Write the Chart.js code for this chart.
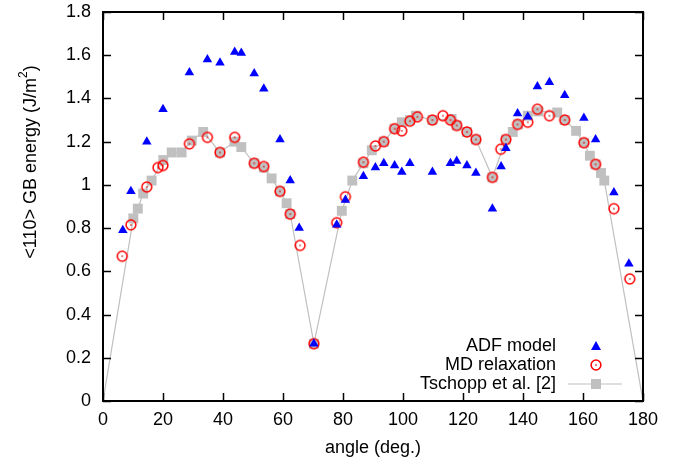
<!DOCTYPE html>
<html lang="en">
<head>
    <meta charset="UTF-8">
    <title>GB energy</title>
    <script src="https://cdn.jsdelivr.net/npm/chart.js"></script>
    <style>
        html, body { margin: 0; padding: 0; background: #fff; }
        #wrap { width: 686px; height: 463px; position: relative; }
    </style>
</head>
<body>
<div id="wrap"><canvas id="gbChart"></canvas></div>
<script>
    // ADF model (blue triangles)
    const adfAngle = [6.6, 9.3, 14.6, 20.0, 28.8, 34.8, 39.0, 43.9, 46.1, 50.4, 53.6, 59.0, 62.4, 65.4, 70.3,
        77.9, 80.8, 86.8, 90.8, 93.6, 97.2, 99.6, 102.3, 109.8, 115.8, 117.9, 121.3, 124.3, 129.8, 132.7,
        134.3, 138.2, 141.6, 144.8, 148.8, 153.9, 160.3, 164.2, 170.3, 175.3];
    const adfEnergy = [0.79, 0.97, 1.20, 1.35, 1.52, 1.58, 1.565, 1.615, 1.61, 1.515, 1.445, 1.21, 1.02, 0.80, 0.265,
        0.815, 0.93, 1.04, 1.08, 1.10, 1.09, 1.06, 1.10, 1.06, 1.10, 1.11, 1.09, 1.055, 0.89, 1.085,
        1.17, 1.33, 1.315, 1.455, 1.475, 1.415, 1.31, 1.21, 0.965, 0.635];

    // MD relaxation (red circles)
    const mdAngle = [6.4, 9.3, 14.6, 18.3, 20.0, 28.8, 34.8, 39.0, 43.9, 50.4, 53.6, 59.0, 62.4, 65.7, 70.3,
        77.9, 80.8, 86.8, 90.8, 93.6, 97.2, 99.6, 102.3, 104.8, 109.8, 113.3, 115.8, 117.9, 121.3, 124.3,
        129.8, 132.6, 134.3, 138.2, 141.6, 144.8, 148.8, 153.9, 160.3, 164.2, 170.3, 175.6];
    const mdEnergy = [0.67, 0.815, 0.99, 1.08, 1.09, 1.19, 1.22, 1.15, 1.22, 1.10, 1.085, 0.97, 0.865, 0.72, 0.265,
        0.825, 0.945, 1.105, 1.18, 1.20, 1.26, 1.25, 1.295, 1.315, 1.30, 1.32, 1.30, 1.275, 1.245, 1.21,
        1.035, 1.165, 1.21, 1.28, 1.29, 1.35, 1.32, 1.30, 1.195, 1.095, 0.89, 0.565];

    // Tschopp et al. [2] (grey squares + line)
    const tsAngle = [0, 10.1, 11.6, 13.4, 16.2, 20.1, 22.9, 26.2, 29.6, 33.4, 39.0, 43.8, 46.1, 50.4, 53.6,
        56.2, 59.0, 61.2, 62.4, 70.3, 79.6, 83.1, 86.8, 89.6, 93.6, 97.2, 99.6, 102.3, 104.3, 109.8,
        116.2, 117.9, 121.3, 124.3, 129.8, 134.3, 136.6, 138.4, 141.6, 145.1, 151.4, 153.9, 157.7, 160.3,
        162.3, 164.2, 166.0, 167.1, 180];
    const tsEnergy = [0, 0.845, 0.89, 0.96, 1.02, 1.115, 1.15, 1.15, 1.205, 1.245, 1.15, 1.20, 1.175, 1.10, 1.08,
        1.03, 0.97, 0.915, 0.865, 0.265, 0.88, 1.02, 1.10, 1.16, 1.20, 1.26, 1.29, 1.30, 1.32, 1.30,
        1.305, 1.275, 1.245, 1.21, 1.035, 1.21, 1.245, 1.28, 1.32, 1.34, 1.335, 1.30, 1.25, 1.195,
        1.135, 1.095, 1.055, 1.02, 0];

    const xTicks = [0, 20, 40, 60, 80, 100, 120, 140, 160, 180];
    const yTicks = [0, 0.2, 0.4, 0.6, 0.8, 1, 1.2, 1.4, 1.6, 1.8];
    const legendLabels = ["ADF model", "MD relaxation", "Tschopp et al. [2]"];

    const FONT = "Liberation Sans, Arial, sans-serif";
    const pts = (xs, ys) => xs.map((x, i) => ({ x: x, y: ys[i] }));

    // red circle with a dot in the middle
    function circleDot() {
        const c = document.createElement("canvas");
        c.width = 14; c.height = 14;
        const g = c.getContext("2d");
        g.strokeStyle = "#ff0000";
        g.lineWidth = 1.5;
        g.beginPath(); g.arc(7, 7, 4.9, 0, Math.PI * 2); g.stroke();
        g.fillStyle = "#d00000";
        g.fillRect(6.3, 6.3, 1.4, 1.4);
        return c;
    }
    const circleImg = circleDot();

    // frame, inward ticks, y title and legend
    const frame = {
        id: "frame",
        afterDatasetsDraw(chart) {
            const { ctx, chartArea: a, scales } = chart;
            ctx.save();
            ctx.strokeStyle = "#000";
            ctx.lineWidth = 1.5;
            ctx.beginPath();
            xTicks.forEach(v => {
                const px = Math.round(scales.x.getPixelForValue(v)) + 0.5;
                ctx.moveTo(px, a.bottom); ctx.lineTo(px, a.bottom - 8);
                ctx.moveTo(px, a.top); ctx.lineTo(px, a.top + 8);
            });
            yTicks.forEach(v => {
                const py = Math.round(scales.y.getPixelForValue(v)) + 0.5;
                ctx.moveTo(a.left, py); ctx.lineTo(a.left + 8, py);
                ctx.moveTo(a.right, py); ctx.lineTo(a.right - 8, py);
            });
            ctx.stroke();
            ctx.lineWidth = 2;
            ctx.strokeRect(a.left, a.top, a.right - a.left, a.bottom - a.top);

            // y axis title with superscript
            ctx.fillStyle = "#000";
            ctx.translate(31, 162);
            ctx.rotate(-Math.PI / 2);
            ctx.textBaseline = "middle";
            const main = "<110> GB energy (J/m", sup = "2", tail = ")";
            ctx.font = "18px " + FONT;
            const w1 = ctx.measureText(main).width;
            const w3 = ctx.measureText(tail).width;
            ctx.font = "12px " + FONT;
            const w2 = ctx.measureText(sup).width;
            let x0 = -(w1 + w2 + w3) / 2;
            ctx.font = "18px " + FONT;
            ctx.fillText(main, x0, 0);
            ctx.font = "12px " + FONT;
            ctx.fillText(sup, x0 + w1, -7);
            ctx.font = "18px " + FONT;
            ctx.fillText(tail, x0 + w1 + w2, 0);
            ctx.setTransform(1, 0, 0, 1, 0, 0);

            // legend (text right aligned, symbol on the right)
            ctx.font = "18px " + FONT;
            ctx.textAlign = "right";
            ctx.textBaseline = "middle";
            const rows = [346, 365, 384];
            legendLabels.forEach((t, i) => ctx.fillText(t, 556, rows[i]));
            ctx.fillStyle = "#0000ff";
            ctx.beginPath();
            ctx.moveTo(596, rows[0] - 5); ctx.lineTo(601, rows[0] + 4); ctx.lineTo(591, rows[0] + 4);
            ctx.closePath(); ctx.fill();
            ctx.drawImage(circleImg, 596 - 7, rows[1] - 7);
            ctx.strokeStyle = "#c0c0c0";
            ctx.lineWidth = 1.2;
            ctx.beginPath(); ctx.moveTo(568, rows[2]); ctx.lineTo(622, rows[2]); ctx.stroke();
            ctx.fillStyle = "#c0c0c0";
            ctx.fillRect(591, rows[2] - 5, 10, 10);
            ctx.restore();
        }
    };

    new Chart(document.getElementById("gbChart"), {
        type: "scatter",
        data: {
            datasets: [
                {
                    label: legendLabels[0],
                    data: pts(adfAngle, adfEnergy),
                    pointStyle: "triangle",
                    pointRadius: 5.5,
                    backgroundColor: "#0000ff",
                    borderColor: "#0000ff",
                    borderWidth: 0,
                    order: 1
                },
                {
                    label: legendLabels[1],
                    data: pts(mdAngle, mdEnergy),
                    pointStyle: circleImg,
                    order: 2
                },
                {
                    label: legendLabels[2],
                    data: pts(tsAngle, tsEnergy),
                    showLine: true,
                    borderColor: "#c0c0c0",
                    borderWidth: 1.2,
                    pointStyle: "rect",
                    pointRadius: ctx => (ctx.dataIndex === 0 || ctx.dataIndex === tsAngle.length - 1) ? 0 : 7,
                    pointBackgroundColor: "#c0c0c0",
                    pointBorderWidth: 0,
                    order: 3
                }
            ]
        },
        options: {
            responsive: true,
            maintainAspectRatio: false,
            animation: false,
            layout: { padding: { left: 0, right: 43, top: 12, bottom: 0 } },
            plugins: { legend: { display: false }, tooltip: { enabled: false } },
            scales: {
                x: {
                    type: "linear",
                    min: 0, max: 180,
                    afterFit: s => { s.height = 62; s.paddingLeft = 0; s.paddingRight = 0; },
                    afterBuildTicks: s => { s.ticks = xTicks.map(v => ({ value: v })); },
                    grid: { display: false, drawTicks: false },
                    border: { display: false },
                    ticks: { color: "#000", padding: 8, font: { family: FONT, size: 18 } },
                    title: {
                        display: true, text: "angle (deg.)", color: "#000",
                        font: { family: FONT, size: 18 }, padding: { top: 0, bottom: 4 }
                    }
                },
                y: {
                    type: "linear",
                    min: 0, max: 1.8,
                    afterFit: s => { s.width = 103; s.paddingTop = 0; s.paddingBottom = 0; },
                    afterBuildTicks: s => { s.ticks = yTicks.map(v => ({ value: v })); },
                    grid: { display: false, drawTicks: false },
                    border: { display: false },
                    ticks: {
                        color: "#000", padding: 12, font: { family: FONT, size: 18 },
                        callback: v => String(+v.toFixed(1))
                    }
                }
            }
        },
        plugins: [frame]
    });
</script>
</body>
</html>
